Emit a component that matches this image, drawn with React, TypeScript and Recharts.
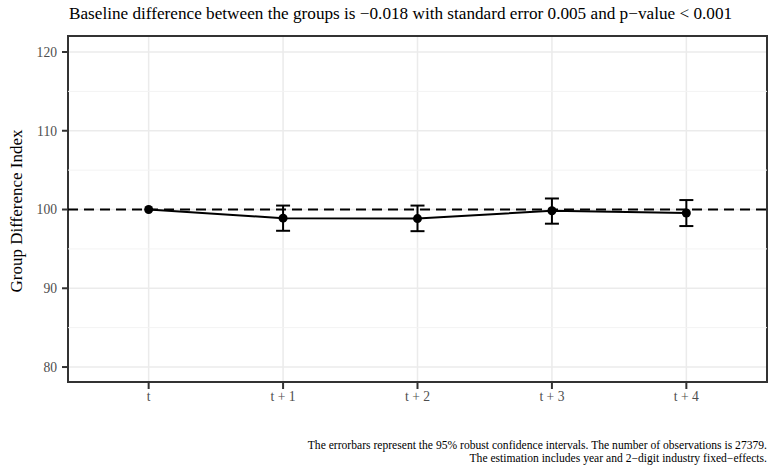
import {
  ComposedChart,
  Line,
  XAxis,
  YAxis,
  CartesianGrid,
  ReferenceLine,
  ReferenceArea,
  ErrorBar,
} from "recharts";

const periods = ["t", "t + 1", "t + 2", "t + 3", "t + 4"];
const estimates = [100, 98.9, 98.85, 99.85, 99.55];
const lowerCI = [100, 97.3, 97.25, 98.2, 97.9];
const upperCI = [100, 100.5, 100.5, 101.4, 101.2];
const yTicks = [80, 90, 100, 110, 120];
const yMinorTicks = [85, 95, 105, 115];

const X_DOMAIN: [number, number] = [-0.6, 4.6];
const Y_DOMAIN: [number, number] = [78.1, 122.03];

const FONT = "'Liberation Serif', 'DejaVu Serif', serif";

const data = periods.map((p, i) => ({
  idx: i,
  period: p,
  estimate: estimates[i],
  // first period is the baseline, no interval drawn
  err: i === 0 ? null : [estimates[i] - lowerCI[i], upperCI[i] - estimates[i]],
}));

const tickStyle = { fill: "#4D4D4D", fontSize: 13.6, fontFamily: FONT };

export default function App() {
  return (
    <div style={{ position: "fixed", left: 0, top: 0, width: 771, height: 468, background: "#fff", fontFamily: FONT }}>
      <div style={{ position: "absolute", left: 69, top: 4, fontSize: 17.2, color: "#000", whiteSpace: "nowrap", lineHeight: "20px" }}>
        Baseline difference between the groups is −0.018 with standard error 0.005 and p−value &lt; 0.001
      </div>
      <div
        style={{
          position: "absolute",
          left: 17,
          top: 211,
          transform: "translate(-50%, -50%) rotate(-90deg)",
          fontSize: 17,
          lineHeight: "20px",
          whiteSpace: "nowrap",
          color: "#000",
        }}
      >
        Group Difference Index
      </div>
      <ComposedChart
        width={771}
        height={468}
        data={data}
        margin={{ top: 36, right: 4, bottom: 56, left: 20 }}
      >
        <CartesianGrid stroke="#EBEBEB" strokeWidth={1.5} />
        {yMinorTicks.map((v) => (
          <ReferenceLine key={v} y={v} stroke="#F3F3F3" strokeWidth={1} />
        ))}
        <XAxis
          type="number"
          dataKey="idx"
          domain={X_DOMAIN}
          ticks={[0, 1, 2, 3, 4]}
          tickFormatter={(v: number) => periods[v]}
          allowDataOverflow
          axisLine={false}
          tickLine={{ stroke: "#333", strokeWidth: 2 }}
          tickSize={7}
          tickMargin={2}
          tick={tickStyle}
          height={30}
        />
        <YAxis
          type="number"
          domain={Y_DOMAIN}
          ticks={yTicks}
          allowDataOverflow
          axisLine={false}
          tickLine={{ stroke: "#333", strokeWidth: 2 }}
          tickSize={6}
          tickMargin={5}
          tick={tickStyle}
          width={48}
        />
        <ReferenceLine y={100} stroke="#000" strokeWidth={2} strokeDasharray="10 6" />
        <Line
          dataKey="estimate"
          stroke="#000"
          strokeWidth={2}
          dot={{ r: 4.5, fill: "#000", stroke: "#000", strokeWidth: 0 }}
          activeDot={false}
          isAnimationActive={false}
        >
          <ErrorBar dataKey="err" direction="y" width={7} stroke="#000" strokeWidth={2} isAnimationActive={false} />
        </Line>
        <ReferenceArea
          x1={X_DOMAIN[0]}
          x2={X_DOMAIN[1]}
          y1={Y_DOMAIN[0]}
          y2={Y_DOMAIN[1]}
          fill="none"
          stroke="#333"
          strokeWidth={2}
          ifOverflow="visible"
        />
      </ComposedChart>
      <div
        style={{
          position: "absolute",
          right: 4,
          top: 439,
          fontSize: 11.6,
          lineHeight: "13px",
          textAlign: "right",
          color: "#000",
          whiteSpace: "nowrap",
        }}
      >
        The errorbars represent the 95% robust confidence intervals. The number of observations is 27379.
        <br />
        The estimation includes year and 2−digit industry fixed−effects.
      </div>
    </div>
  );
}
